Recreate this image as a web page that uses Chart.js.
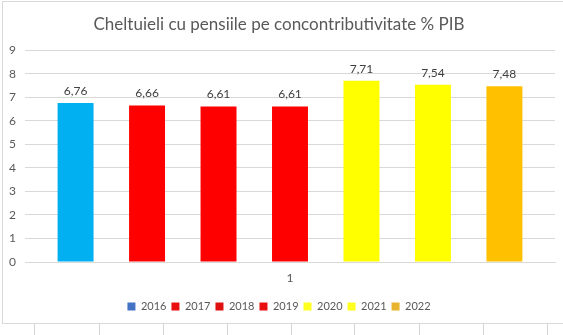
<!DOCTYPE html>
<html>
<head>
<meta charset="utf-8">
<script src="https://cdn.jsdelivr.net/npm/chart.js@4"></script>
<style>
  body { margin: 0; background: #fff; width: 563px; height: 335px; overflow: hidden; position: relative; }
  #frame { position: absolute; left: 2px; top: 1px; width: 580px; height: 321px; border: 1px solid #d9d9d9; background: #fff; }
  #wrap { position: absolute; left: 0; top: 0; width: 561px; height: 321px; }
  .cell { position: absolute; top: 324px; width: 1px; height: 11px; background: #d4d4d4; }
</style>
</head>
<body>
<div id="frame"><div id="wrap"><canvas id="chart"></canvas></div></div>
<div id="cells"></div>
<script>
// Data -----------------------------------------------------------------------------------

var CATEGORIES = ['1'];
var YEARS = ['2016', '2017', '2018', '2019', '2020', '2021', '2022'];
var VALUES = [6.76, 6.66, 6.61, 6.61, 7.71, 7.54, 7.48];
var BAR_COLORS = ['#00B0F0', '#FF0000', '#FF0000', '#FF0000', '#FFFF00', '#FFFF00', '#FFC000'];
var LEGEND_COLORS = ['#4472C4', '#E81010', '#E01010', '#E81010', '#FFFF20', '#FFFF20', '#E8B430'];
var Y_MAX = 9;

var TEXT_COLOR = '#595959';
var FONT = 'Lato, "Open Sans", sans-serif';

// Spreadsheet cell borders under the chart
var CELL_LINES = [34, 99, 163, 227, 291, 354, 419, 483, 547];
CELL_LINES.forEach(function (x) {
    var d = document.createElement('div');
    d.className = 'cell';
    d.style.left = x + 'px';
    document.getElementById('cells').appendChild(d);
});

// Value labels above bars ----------------------------------------------------------------

var valueLabels = {
    id: 'valueLabels',
    afterDatasetsDraw: function (chart) {
        var ctx = chart.ctx;
        ctx.save();
        ctx.font = '12px ' + FONT;
        ctx.fillStyle = '#404040';
        ctx.textAlign = 'center';
        ctx.textBaseline = 'bottom';
        chart.data.datasets.forEach(function (ds, i) {
            var meta = chart.getDatasetMeta(i);
            meta.data.forEach(function (bar, j) {
                var txt = ds.data[j].toFixed(2).replace('.', ',');
                ctx.fillText(txt, bar.x, bar.y - 6);
            });
        });
        ctx.restore();
    }
};

var datasets = YEARS.map(function (year, i) {
    return {
        label: year,
        data: [VALUES[i]],
        backgroundColor: BAR_COLORS[i],
        borderWidth: 0,
        categoryPercentage: 0.944,
        barPercentage: 0.503
    };
});

new Chart(document.getElementById('chart'), {
    type: 'bar',
    data: { labels: CATEGORIES, datasets: datasets },
    plugins: [valueLabels],
    options: {
        responsive: true,
        maintainAspectRatio: false,
        animation: false,
        layout: { padding: { top: 10, right: 9, bottom: 1, left: 0 } },
        plugins: {
            title: {
                display: true,
                text: 'Cheltuieli cu pensiile pe concontributivitate % PIB',
                color: TEXT_COLOR,
                font: { family: FONT, size: 17, weight: 'normal' },
                padding: { top: 2, bottom: 16 }
            },
            legend: {
                position: 'bottom',
                labels: {
                    boxWidth: 8,
                    boxHeight: 8,
                    padding: 5,
                    color: TEXT_COLOR,
                    font: { family: FONT, size: 11 },
                    generateLabels: function (chart) {
                        return YEARS.map(function (y, i) {
                            return {
                                text: y,
                                fillStyle: LEGEND_COLORS[i],
                                strokeStyle: LEGEND_COLORS[i],
                                lineWidth: 0,
                                fontColor: TEXT_COLOR,
                                datasetIndex: i
                            };
                        });
                    }
                }
            },
            tooltip: { enabled: false }
        },
        scales: {
            x: {
                afterFit: function (scale) { scale.height = 34; },
                grid: { display: false },
                border: { color: '#d9d9d9' },
                ticks: { color: TEXT_COLOR, font: { family: FONT, size: 12 }, padding: 1 }
            },
            y: {
                min: 0,
                max: Y_MAX,
                afterFit: function (scale) { scale.width = 22; },
                grid: { color: '#d9d9d9', drawTicks: false },
                border: { display: false },
                ticks: { stepSize: 1, color: TEXT_COLOR, font: { family: FONT, size: 12 }, padding: 9 }
            }
        }
    }
});
</script>
</body>
</html>
